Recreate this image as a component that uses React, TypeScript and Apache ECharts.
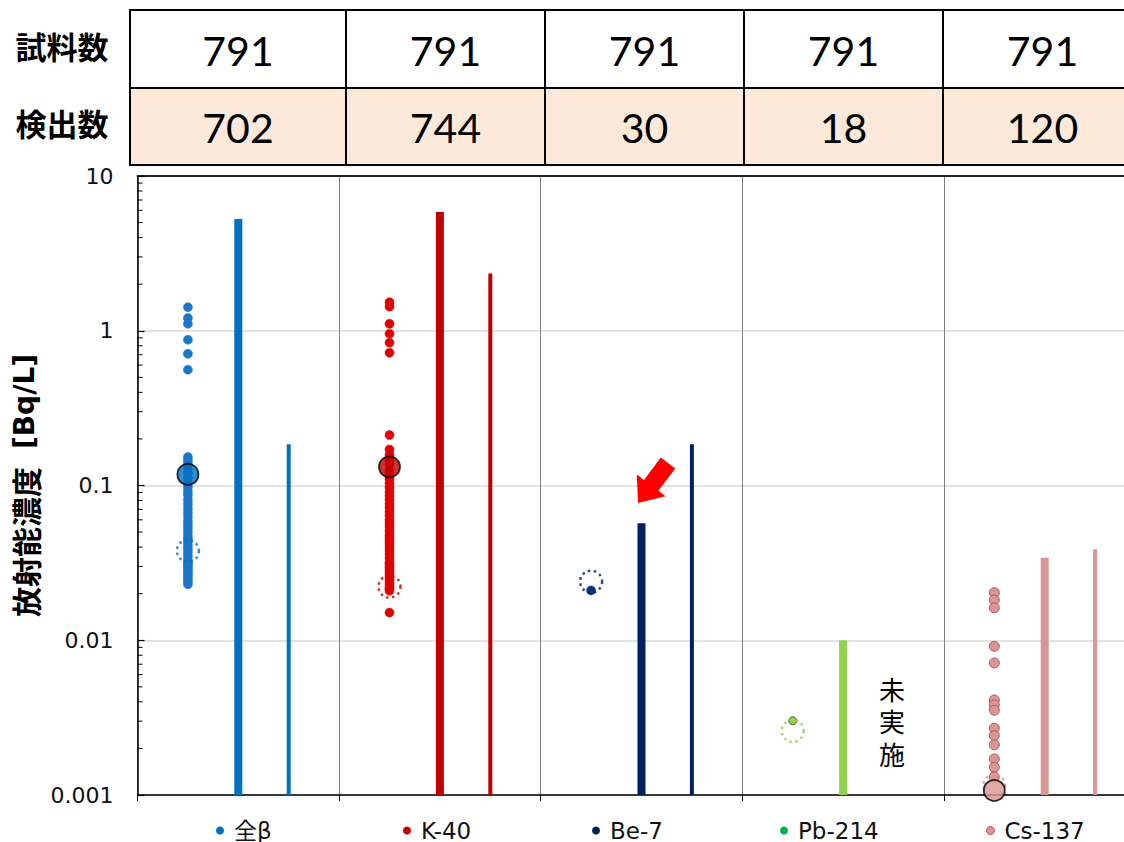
import React, { useEffect, useRef } from "react";
import * as echarts from "echarts";

const categories = ["全β", "K-40", "Be-7", "Pb-214", "Cs-137"];
const sampleCounts = [791, 791, 791, 791, 791];
const detectCounts = [702, 744, 30, 18, 120];
const yTickLabels = ["0.001", "0.01", "0.1", "1", "10"];

const dotsGrossBeta = [
  1.42, 1.21, 1.11, 0.875, 0.71, 0.56,
  0.153, 0.145, 0.138, 0.128, 0.12, 0.112, 0.105, 0.098, 0.092, 0.087, 0.081,
  0.076, 0.071, 0.067, 0.063, 0.059, 0.056, 0.053, 0.05, 0.047, 0.045, 0.043,
  0.041, 0.039, 0.037, 0.035, 0.033, 0.032, 0.031, 0.03, 0.029, 0.028, 0.027,
  0.026, 0.025, 0.024, 0.023,
];
const dotsK40 = [
  1.53, 1.43, 1.11, 0.957, 0.838, 0.721,
  0.212, 0.171, 0.158, 0.147, 0.137, 0.125, 0.118, 0.11, 0.103, 0.097, 0.091,
  0.086, 0.081, 0.076, 0.072, 0.068, 0.064, 0.06, 0.057, 0.054, 0.051, 0.048,
  0.046, 0.044, 0.042, 0.04, 0.038, 0.036, 0.034, 0.032, 0.031, 0.03, 0.029,
  0.028, 0.027, 0.026, 0.025, 0.024, 0.023, 0.022, 0.0215, 0.0209, 0.0151,
];
const dotsBe7 = [0.021];
const dotsPb214 = [0.00302];
const dotsCs137 = [
  0.0203, 0.0182, 0.0162, 0.00914, 0.00713, 0.00411, 0.00382, 0.00353,
  0.0027, 0.00242, 0.00211, 0.00171, 0.00151, 0.00131,
];
const dotsByCategory = [dotsGrossBeta, dotsK40, dotsBe7, dotsPb214, dotsCs137];

const maxValues = [5.27, 5.85, 0.057, 0.01, 0.0341];
const limitValues: (number | null)[] = [0.185, 2.34, 0.185, null, 0.0387];
const meanValues: (number | null)[] = [0.118, 0.132, null, null, 0.00107];
const dottedValues = [0.0378, 0.0222, 0.0239, 0.00259, 0.00115];
const notDoneChars = ["未", "実", "施"];

const barColors = ["#0070C0", "#C00000", "#002060", "#92D050", "#DA9694"];
const dotColors = ["#1B75C9", "#E00000", "#0B3180", "#92D050", "#DA9694"];
const dotBorders = ["#1B75C9", "#E00000", "#0B3180", "#4F6228", "#B85450"];
const dotSizes = [9, 9, 9, 8, 10];
const legendColors = ["#0070C0", "#C00000", "#002060", "#00B050", "#DA9694"];
const minorMultipliers = [2, 3, 4, 5, 6, 7, 8, 9];
const minorDecades = [0.001, 0.01, 0.1, 1];

const CHART_W = 1160;
const CHART_H = 842;
const GRID_LEFT = 137.5;
const GRID_TOP = 176;
const COL_W = 201.6;
const GRID_H = 619;
const TABLE_COLS = [130, 346, 545, 744, 943, 1142];
const TABLE_ROWS = [10, 88, 165];
const LEGEND_LEFT = [211, 398, 587, 775, 981];

const NUM_FONT = "Lato, 'Open Sans', sans-serif";
const JP_FONT = "'Noto Sans CJK JP', sans-serif";
const AX_FONT = "'DejaVu Sans', 'Noto Sans CJK JP', sans-serif";

export default function App() {
  const ref = useRef<HTMLDivElement>(null);
  useEffect(() => {
    if (!ref.current) return;
    const chart = echarts.init(ref.current, undefined, { renderer: "svg" });

    const tableGraphics: any[] = [];
    tableGraphics.push({
      type: "rect",
      shape: {
        x: TABLE_COLS[0],
        y: TABLE_ROWS[1],
        width: TABLE_COLS[5] - TABLE_COLS[0],
        height: TABLE_ROWS[2] - TABLE_ROWS[1],
      },
      style: { fill: "#FDE9D9" },
      z: 1,
    });
    TABLE_ROWS.forEach((y) => {
      tableGraphics.push({
        type: "line",
        shape: { x1: TABLE_COLS[0] - 1, y1: y, x2: TABLE_COLS[5], y2: y },
        style: { stroke: "#000", lineWidth: 2 },
        z: 2,
      });
    });
    TABLE_COLS.forEach((x) => {
      tableGraphics.push({
        type: "line",
        shape: { x1: x, y1: TABLE_ROWS[0], x2: x, y2: TABLE_ROWS[2] },
        style: { stroke: "#000", lineWidth: 2 },
        z: 2,
      });
    });
    const rowLabels = ["試料数", "検出数"];
    const rowValues = [sampleCounts, detectCounts];
    rowLabels.forEach((lab, r) => {
      const cy = (TABLE_ROWS[r] + TABLE_ROWS[r + 1]) / 2;
      tableGraphics.push({
        type: "text",
        x: 62,
        y: cy - 4,
        style: {
          text: lab,
          font: `bold 31px ${JP_FONT}`,
          fill: "#000",
          align: "center",
          verticalAlign: "middle",
        },
        z: 3,
      });
      rowValues[r].forEach((v, i) => {
        tableGraphics.push({
          type: "text",
          x: (TABLE_COLS[i] + TABLE_COLS[i + 1]) / 2,
          y: cy + 1,
          style: {
            text: String(v),
            font: `41px ${NUM_FONT}`,
            fill: "#000",
            align: "center",
            verticalAlign: "middle",
          },
          z: 3,
        });
      });
    });

    const arrow = {
      type: "polygon",
      shape: {
        points: [
          [638, 503],
          [665.6, 496.2],
          [658.4, 490.8],
          [675.2, 468.4],
          [660.8, 457.6],
          [644, 480],
          [636.8, 474.6],
        ],
      },
      style: { fill: "#FF0000" },
      z: 10,
    };
    const notDone = notDoneChars.map((ch, k) => ({
      type: "text",
      x: 892,
      y: 688 + k * 32.5,
      style: {
        text: ch,
        font: `26px ${JP_FONT}`,
        fill: "#000",
        align: "center",
        verticalAlign: "middle",
      },
      z: 10,
    }));

    const minorTickData: number[][] = [];
    minorDecades.forEach((d) =>
      minorMultipliers.forEach((m) => minorTickData.push([0, d * m]))
    );

    const scatterSeries = categories.map((name, i) => ({
      type: "scatter",
      name,
      symbol: "circle",
      symbolSize: dotSizes[i],
      z: 3,
      itemStyle: {
        color: dotColors[i],
        borderColor: dotBorders[i],
        borderWidth: i >= 3 ? 1 : 0.5,
        opacity: 1,
      },
      data: dotsByCategory[i].map((v) => [i + 0.25, v]),
    }));

    const barItem = (w: number) => (params: any, api: any) => {
      const x = api.value(0);
      const v = api.value(1);
      const ci = api.value(2);
      const top = api.coord([x, v]);
      const base = api.coord([x, 0.001]);
      return {
        type: "rect",
        shape: { x: top[0] - w / 2, y: top[1], width: w, height: base[1] - top[1] },
        style: { fill: barColors[ci] },
      };
    };

    const option: any = {
      animation: false,
      backgroundColor: "#fff",
      grid: { left: GRID_LEFT, top: GRID_TOP, width: COL_W * 5, height: GRID_H, containLabel: false },
      xAxis: [
        {
          type: "value",
          min: 0,
          max: 5,
          interval: 1,
          axisLine: { show: true, lineStyle: { color: "#000", width: 1.5 } },
          axisTick: { show: true, inside: false, length: 6, lineStyle: { color: "#000", width: 1 } },
          axisLabel: { show: false },
          splitLine: { show: true, lineStyle: { color: "#7F7F7F", width: 1 } },
        },
        {
          type: "value",
          position: "top",
          min: 0,
          max: 5,
          axisLine: { show: true, lineStyle: { color: "#222", width: 2 } },
          axisTick: { show: false },
          axisLabel: { show: false },
          splitLine: { show: false },
        },
      ],
      yAxis: {
        type: "log",
        logBase: 10,
        min: 0.001,
        max: 10,
        axisLine: { show: true, lineStyle: { color: "#000", width: 1.5 } },
        axisTick: { show: true, inside: true, length: 7, lineStyle: { color: "#000", width: 1.2 } },
        axisLabel: {
          margin: 24,
          fontSize: 22,
          fontFamily: AX_FONT,
          color: "#111",
          formatter: (v: number) => yTickLabels[Math.round(Math.log10(v)) + 3],
        },
        splitLine: { show: true, lineStyle: { color: "#D9D9D9", width: 1.5 } },
        name: "{a|放射能濃度}{s| }{b|[Bq/L]}",
        nameLocation: "middle",
        nameGap: 82,
        nameRotate: 90,
        nameTextStyle: {
          rich: {
            a: { fontFamily: JP_FONT, fontWeight: "bold", fontSize: 30, color: "#000" },
            s: { width: 18, fontSize: 20 },
            b: { fontFamily: "'DejaVu Sans', sans-serif", fontWeight: "bold", fontSize: 28, color: "#000" },
          },
        },
      },
      legend: categories.map((name, i) => ({
        left: LEGEND_LEFT[i],
        top: 814,
        icon: "circle",
        itemWidth: 8,
        itemHeight: 8,
        selectedMode: false,
        formatter: (n: string) => `{s|}{t|${n}}`,
        data: [
          {
            name,
            itemStyle: {
              color: legendColors[i],
              borderColor: i === 4 ? "#B85450" : legendColors[i],
              borderWidth: i === 4 ? 1 : 0,
            },
          },
        ],
        textStyle: {
          fontSize: 23,
          fontFamily: AX_FONT,
          color: "#111",
          rich: {
            s: { width: 5, fontSize: 23 },
            t: { fontSize: 23, fontFamily: AX_FONT, color: "#111" },
          },
        },
      })),
      series: [
        {
          type: "custom",
          name: "maxBar",
          z: 2,
          renderItem: barItem(8),
          encode: { x: 0, y: 1 },
          data: maxValues.map((v, i) => [i + 0.5, v, i]),
        },
        {
          type: "custom",
          name: "limitBar",
          z: 2,
          renderItem: barItem(4),
          encode: { x: 0, y: 1 },
          data: limitValues
            .map((v, i) => (v === null ? null : [i + 0.75, v, i]))
            .filter((d) => d !== null),
        },
        ...scatterSeries,
        {
          type: "scatter",
          name: "dotted",
          symbol: "circle",
          symbolSize: 22,
          z: 4,
          data: dottedValues.map((v, i) => ({
            value: [i + 0.25, v],
            itemStyle: {
              color: "rgba(255,255,255,0)",
              borderColor: barColors[i],
              borderWidth: 2.5,
              borderType: [2.5, 3.5],
            },
          })),
        },
        {
          type: "scatter",
          name: "mean",
          symbol: "circle",
          symbolSize: 21,
          z: 5,
          data: meanValues
            .map((v, i) =>
              v === null
                ? null
                : {
                    value: [i + 0.25, v],
                    itemStyle: { color: barColors[i], borderColor: "#000", borderWidth: 1.8 },
                  }
            )
            .filter((d) => d !== null),
        },
        {
          type: "custom",
          name: "minorTicks",
          z: 6,
          encode: { x: 0, y: 1 },
          renderItem: (params: any, api: any) => {
            const p = api.coord([0, api.value(1)]);
            return {
              type: "line",
              shape: { x1: p[0], y1: p[1], x2: p[0] + 5, y2: p[1] },
              style: { stroke: "#000", lineWidth: 1 },
            };
          },
          data: minorTickData,
        },
      ],
      graphic: [...tableGraphics, arrow, ...notDone],
    };
    chart.setOption(option);
    return () => chart.dispose();
  }, []);

  return (
    <div
      style={{
        position: "fixed",
        left: 0,
        top: 0,
        width: 1124,
        height: 842,
        overflow: "hidden",
        background: "#fff",
      }}
    >
      <div ref={ref} style={{ width: CHART_W, height: CHART_H }} />
    </div>
  );
}
